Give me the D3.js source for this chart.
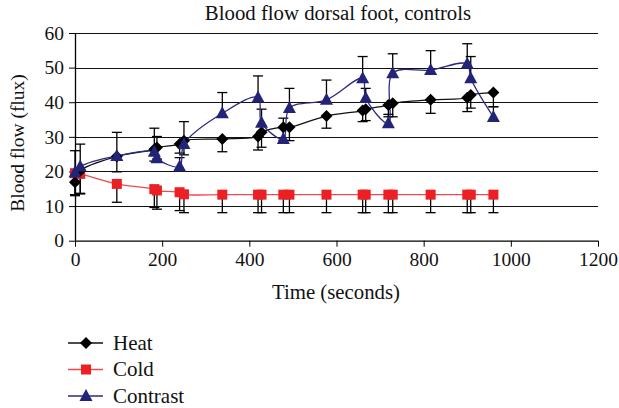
<!DOCTYPE html>
<html><head><meta charset="utf-8">
<script src="https://cdn.jsdelivr.net/npm/d3@7"></script>
<style>body{margin:0;background:#fff}svg{display:block}</style>
</head><body><svg id="c" width="619" height="408"></svg>
<script>
const times = [0, 12, 96, 182, 188, 240, 250, 338, 420, 428, 478, 492, 577, 660, 667, 719, 729, 816, 900, 908, 960];
const heat = [16.9, 20.2, 24.3, 26.4, 26.9, 27.9, 28.9, 29.4, 30.1, 31.3, 32.8, 32.8, 36.0, 37.6, 38.0, 39.2, 39.7, 40.7, 41.3, 42.1, 42.8];
const heatLow = [13.0, 13.7, 19.9, 23.0, 23.6, 25.3, 24.8, 25.7, 26.2, 27.0, 29.0, 28.9, 32.5, 34.4, 34.7, 35.8, 35.8, 36.8, 37.3, 38.3, 38.7];
const cold = [19.5, 19.3, 16.4, 14.9, 14.5, 14.0, 13.4, 13.3, 13.3, 13.3, 13.3, 13.3, 13.3, 13.3, 13.3, 13.3, 13.3, 13.3, 13.3, 13.3, 13.3];
const coldLow = [13.3, 13.5, 11.1, 9.6, 9.1, 8.7, 8.1, 8.1, 8.1, 8.1, 8.1, 8.1, 8.1, 8.1, 8.1, 8.1, 8.1, 8.1, 8.1, 8.1, 8.1];
const contrast = [19.7, 21.4, 24.5, 25.7, 23.8, 21.4, 27.9, 36.8, 41.4, 34.1, 29.4, 38.3, 40.7, 46.9, 41.2, 33.9, 48.4, 49.3, 51.1, 46.9, 35.7];
const contrastHigh = [26.0, 27.9, 31.3, 32.5, 30.1, 24.0, 34.4, 42.8, 47.6, 38.0, 35.4, 44.0, 46.4, 53.2, 44.0, 36.5, 54.0, 54.9, 56.9, 53.2, 38.7];
const xTicks = [0, 200, 400, 600, 800, 1000, 1200];
const yTicks = [0, 10, 20, 30, 40, 50, 60];
const seriesNames = ["Heat", "Cold", "Contrast"];

const FONT = '"Liberation Serif"';
const FS = 19.5;
const svg = d3.select("#c");
const x = d3.scaleLinear().domain([0, 1200]).range([75, 598]);
const y = d3.scaleLinear().domain([0, 60]).range([240.7, 33]);

// gridlines
svg.append("g").selectAll("line").data(yTicks.filter(d => d > 0)).join("line")
  .attr("x1", x(0)).attr("x2", x(1200)).attr("y1", d => Math.round(y(d)) + 0.5).attr("y2", d => Math.round(y(d)) + 0.5)
  .attr("stroke", "#111").attr("stroke-width", 1);

// axes
const yAxis = d3.axisLeft(y).tickValues(yTicks).tickSize(6).tickPadding(5).tickFormat(d3.format("d"));
const gy = svg.append("g").attr("transform", `translate(${x(0)},0)`).call(yAxis);
const xAxis = d3.axisBottom(x).tickValues(xTicks).tickSize(6).tickPadding(5).tickFormat(d3.format("d"));
const gx = svg.append("g").attr("transform", `translate(0,${y(0)})`).call(xAxis);
[gx, gy].forEach(g => {
  g.select(".domain").attr("stroke", "#000").attr("stroke-width", 1.3);
  g.selectAll(".tick line").attr("stroke", "#000");
  g.selectAll("text").attr("fill", "#111").style("font-family", FONT).style("font-size", FS + "px");
});
gy.select(".domain").attr("d", `M0.5,${y(0)}V${y(60)}`);
gx.select(".domain").attr("d", `M${x(0)},0.5H${x(1200)}`);

// titles
function label(xx, yy, txt, size, rot) {
  const t = svg.append("text").attr("text-anchor", "middle").style("font-size", size + "px").style("font-family", FONT).attr("fill", "#111").text(txt);
  if (rot) t.attr("transform", `translate(${xx},${yy}) rotate(-90)`); else t.attr("x", xx).attr("y", yy);
}
label(338, 20, "Blood flow dorsal foot, controls", 20.8);
label(336, 299, "Time (seconds)", 20.8);
label(24, 143, "Blood flow (flux)", 19.5, true);

const colors = {Heat: "#000000", Cold: "#ec2024", Contrast: "#232377"};
const lineColors = {Heat: "#111", Cold: "#f0484c", Contrast: "#2b2b80"};

function errBars(vals, ends) {
  const g = svg.append("g").attr("stroke", "#000").attr("stroke-width", 1.3);
  times.forEach((t, i) => {
    const xx = x(t);
    g.append("line").attr("x1", xx).attr("x2", xx).attr("y1", y(vals[i])).attr("y2", y(ends[i]));
    g.append("line").attr("x1", xx - 5).attr("x2", xx + 5).attr("y1", y(ends[i])).attr("y2", y(ends[i]));
  });
}
errBars(cold, coldLow);
errBars(heat, heatLow);
errBars(contrast, contrastHigh);

const line = d3.line().x((d, i) => x(times[i])).y(d => y(d)).curve(d3.curveCatmullRom.alpha(0.5));
const data = {Heat: heat, Cold: cold, Contrast: contrast};

function marker(g, name, cx, cy) {
  if (name === "Heat") {
    g.append("path").attr("d", `M${cx},${cy - 6}L${cx + 6},${cy}L${cx},${cy + 6}L${cx - 6},${cy}Z`).attr("fill", colors.Heat);
  } else if (name === "Cold") {
    g.append("rect").attr("x", cx - 5).attr("y", cy - 5).attr("width", 10).attr("height", 10).attr("fill", colors.Cold);
  } else {
    g.append("path").attr("d", `M${cx},${cy - 7}L${cx + 6.5},${cy + 5}L${cx - 6.5},${cy + 5}Z`).attr("fill", colors.Contrast);
  }
}

["Cold", "Heat", "Contrast"].forEach(name => {
  svg.append("path").datum(data[name]).attr("d", line).attr("fill", "none")
    .attr("stroke", lineColors[name]).attr("stroke-width", 1.3);
});
["Cold", "Heat", "Contrast"].forEach(name => {
  const g = svg.append("g");
  data[name].forEach((v, i) => marker(g, name, x(times[i]), y(v)));
});

// legend
const leg = svg.append("g");
seriesNames.forEach((name, i) => {
  const ly = 343 + i * 26.5;
  leg.append("line").attr("x1", 68).attr("x2", 103).attr("y1", ly).attr("y2", ly)
    .attr("stroke", lineColors[name]).attr("stroke-width", 1.5);
  marker(leg, name, 86, ly);
  leg.append("text").attr("x", 113).attr("y", ly + 6.5).style("font-size", "21px").style("font-family", FONT).attr("fill", "#111").text(name);
});
</script></body></html>
